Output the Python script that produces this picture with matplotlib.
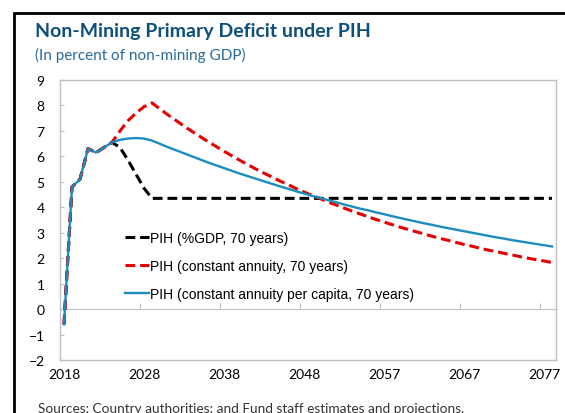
import matplotlib
matplotlib.use("Agg")
import matplotlib.pyplot as plt
from matplotlib.patches import Rectangle

# Year labels shown on the category axis (every 10th category)
tick_labels = ["2018", "2028", "2038", "2048", "2057", "2067", "2077"]
n_years = 62

# Common start of all three paths (first 7 years)
start = [-0.6, 4.8, 5.1, 6.3, 6.15, 6.35, 6.55]

pih_gdp = start + [6.35, 5.85, 5.3, 4.75] + [4.35] * 51

pih_annuity = start + [
    7.0, 7.4, 7.7, 7.95, 8.10, 7.86, 7.63, 7.41, 7.19, 6.98, 6.78, 6.58,
    6.39, 6.20, 6.02, 5.84, 5.67, 5.50, 5.34, 5.19, 5.03, 4.89, 4.74, 4.60,
    4.47, 4.34, 4.21, 4.09, 3.97, 3.85, 3.74, 3.63, 3.52, 3.42, 3.32, 3.22,
    3.13, 3.04, 2.95, 2.86, 2.78, 2.70, 2.62, 2.54, 2.47, 2.39, 2.32, 2.26,
    2.19, 2.13, 2.06, 2.00, 1.94, 1.89, 1.83]

pih_per_capita = start + [
    6.65, 6.70, 6.72, 6.70, 6.62, 6.49, 6.36, 6.24, 6.12, 6.00, 5.88, 5.76,
    5.65, 5.54, 5.43, 5.32, 5.22, 5.12, 5.02, 4.92, 4.82, 4.73, 4.63, 4.54,
    4.45, 4.37, 4.28, 4.20, 4.11, 4.03, 3.95, 3.88, 3.80, 3.73, 3.65, 3.58,
    3.51, 3.44, 3.37, 3.31, 3.24, 3.18, 3.12, 3.06, 3.00, 2.94, 2.88, 2.82,
    2.77, 2.71, 2.66, 2.61, 2.56, 2.51, 2.46]

labels = ["PIH (%GDP, 70 years)",
          "PIH (constant annuity, 70 years)",
          "PIH (constant annuity per capita, 70 years)"]

title_color = "#0d4f7d"
grid_gray = "#bfbfbf"

fig = plt.figure(figsize=(5.65, 4.14), dpi=100)
ax = fig.add_axes([60 / 565, 1 - 361 / 414, 496 / 565, 280 / 414])

x = list(range(n_years))
ax.plot(x, pih_gdp, color="black", lw=2.2, dashes=(3.2, 1.6), label=labels[0])
ax.plot(x, pih_annuity, color="#e60000", lw=2.2, dashes=(3.2, 1.6), label=labels[1])
ax.plot(x, pih_per_capita, color="#1a8cc0", lw=1.7, label=labels[2])

ax.set_xlim(-0.5, n_years - 0.5)
ax.set_ylim(-2, 9)
ax.set_yticks(range(-2, 10))
ax.set_xticks(range(0, 61, 10))
ax.set_xticklabels(tick_labels)
ax.tick_params(axis="x", length=0, pad=6, labelsize=10)
ax.tick_params(axis="y", direction="in", length=3, color=grid_gray, pad=11, labelsize=10)
for lab in ax.get_xticklabels() + ax.get_yticklabels():
    lab.set_fontfamily("Lato")
for sp in ax.spines.values():
    sp.set_color(grid_gray)
    sp.set_linewidth(1.0)

# category axis crossing at zero, tick marks between categories
sec = ax.secondary_xaxis(2 / 11)
sec.set_xticks([9.5, 19.5, 29.5, 39.5, 49.5, 59.5])
sec.set_xticklabels([])
sec.tick_params(direction="in", length=4, color=grid_gray)
sec.spines["bottom"].set_color(grid_gray)

ax.legend(loc="upper left", bbox_to_anchor=(0.105, 0.505), frameon=False,
          handlelength=1.75, handletextpad=0.1, labelspacing=1.0,
          prop={"family": "Liberation Sans", "size": 10})

fig.text(35 / 565, 1 - 31 / 414, "Non-Mining Primary Deficit under PIH",
         fontsize=14, fontweight="bold", family="Lato", color=title_color, va="center")
fig.text(35 / 565, 1 - 55 / 414, "(In percent of non-mining GDP)",
         fontsize=11, family="Lato", color="#2a6a9a", va="center")
fig.text(38 / 565, 1 - 409 / 414,
         "Sources: Country authorities; and Fund staff estimates and projections.",
         fontsize=9.8, family="Lato", color="#333333", va="center")

# outer frame (left and top edges visible)
fig.patches.append(Rectangle((13.5 / 565, -0.1), 1.2, 1 - 13.5 / 414 + 0.1,
                             transform=fig.transFigure, fill=False,
                             edgecolor="black", lw=2, figure=fig))

fig.savefig("out.png", dpi=100)
